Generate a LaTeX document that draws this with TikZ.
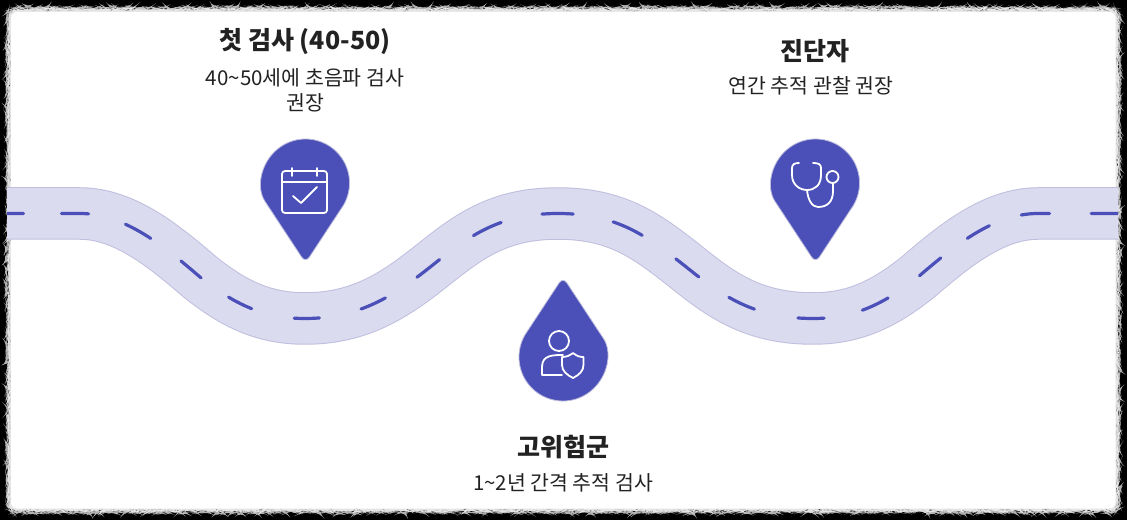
\documentclass[tikz,border=0pt]{standalone}
\usepackage{fontspec}
\setmainfont{Noto Sans CJK KR}
\usetikzlibrary{calc,decorations.pathmorphing,positioning}
\definecolor{road}{RGB}{219,219,240}
\definecolor{roadedge}{RGB}{192,190,222}
\definecolor{pinblue}{RGB}{74,80,184}
\definecolor{inktext}{RGB}{34,34,34}
\tikzset{
  titletext/.style={font=\fontsize{25}{29}\selectfont\bfseries,text=inktext,inner sep=0pt},
  subtext/.style={font=\fontsize{20.5}{25}\selectfont,text=inktext,inner sep=0pt,align=center},
  iconline/.style={draw=white,line width=1.8pt,line cap=round,line join=round},
  roaddash/.style={draw=pinblue,line width=3.2pt,line cap=round,dash pattern=
    on 31.1pt off 37.8pt on 27.2pt off 38.5pt on 29pt off 37.8pt on 26.2pt off 33.6pt
    on 25.8pt off 43.8pt on 25.2pt off 42.8pt on 26.7pt off 37.8pt on 28.6pt off 41.6pt
    on 30.7pt off 41.8pt on 31.2pt off 40.8pt on 32.1pt off 41.1pt on 29.2pt off 36.4pt
    on 28.1pt off 44.6pt on 26.2pt off 39.2pt on 28.5pt off 38.6pt on 27.7pt off 33pt
    on 25.4pt off 33.8pt on 28.2pt off 41.8pt on 40pt off 40pt},
  pin/.pic={
    \fill[pinblue,draw=roadedge,line width=0.8pt,rounded corners=7pt]
      (36.7,-24.2) -- (0,-80) -- (-36.7,-24.2) [sharp corners] arc (213.4:-33.4:44) -- cycle;
  }
}
\begin{document}
\begin{tikzpicture}[x=1pt,y=1pt]
  \useasboundingbox (0,0) rectangle (1127,520);
  \fill[black] (0,0) rectangle (1127,520);
  % card with rough edge
  \fill[gray!60,rounded corners=8pt,decorate,decoration={random steps,segment length=2pt,amplitude=0.9pt}]
    (7.5,8) rectangle (1119,512);
  \fill[gray!20,rounded corners=7pt,decorate,decoration={random steps,segment length=2pt,amplitude=0.7pt}]
    (9,9.5) rectangle (1117.5,510.5);
  \fill[white,rounded corners=6pt] (11,11.5) rectangle (1115.5,508);
  % road
  \begin{scope}
    \clip (7,0) rectangle (1118,520);
    \def\roadpath{(-7.5,306.5) -- (80,306.5) .. controls (125,306.5) and (165,273) .. (200,243)
      .. controls (235,215) and (265,201.5) .. (305,201.5)
      .. controls (360,201.5) and (395,225) .. (431.5,254)
      .. controls (468,283) and (498,306.5) .. (558,306.5)
      .. controls (618,306.5) and (648,283) .. (685,254)
      .. controls (721,225) and (753,201.5) .. (813,201.5)
      .. controls (853,201.5) and (883,215) .. (918,243)
      .. controls (953,273) and (993,306.5) .. (1038,306.5) -- (1137,306.5)}
    \draw[roadedge,line width=52.5pt] \roadpath;
    \draw[road,line width=50.5pt] \roadpath;
    \draw[roaddash] \roadpath;
  \end{scope}
  % pins
  \pic at (305.5,337) {pin};
  \pic at (815.5,337) {pin};
  \pic[rotate=180] at (563,163) {pin};
  % calendar
  \begin{scope}[shift={(305,337)}]
    \draw[iconline,rounded corners=3pt] (-23,12) rectangle (22,-30);
    \draw[iconline] (-23,1) -- (22,1) (-13,15) -- (-13,7) (12,15) -- (12,7);
    \draw[iconline] (-12,-13) -- (-4,-20) -- (12,-4);
  \end{scope}
  % stethoscope
  \begin{scope}[shift={(815,337)}]
    \draw[iconline] (-16,20) .. controls (-20,20) and (-23,19) .. (-23,15)
      -- (-23,8) .. controls (-23,-2) and (-15,-7) .. (-8,-7)
      .. controls (0,-7) and (6,-2) .. (6,8) -- (6,15) .. controls (6,19) and (3,20) .. (-2,20);
    \draw[iconline] (-8,-7) .. controls (-7,-17) and (-3,-24) .. (3,-24)
      .. controls (12,-24) and (18,-19) .. (18,-8) -- (18,0);
    \draw[iconline] (17.5,6) circle (6);
  \end{scope}
  % person with shield
  \begin{scope}[shift={(559,179)}]
    \draw[iconline] (0,0) circle (10);
    \draw[iconline] (4,-14) .. controls (-6,-14) and (-17,-14) .. (-17,-26) -- (-17,-31)
      -- (-17,-34) -- (3,-34);
    \draw[iconline,fill=pinblue] (14,-12) .. controls (10,-15) and (7,-16) .. (3,-16)
      -- (3,-24) .. controls (3,-30) and (8,-34) .. (14,-37)
      .. controls (20,-34) and (24.5,-30) .. (24.5,-24) -- (24.5,-16)
      .. controls (20,-16) and (18,-15) .. (14,-12) -- cycle;
  \end{scope}
  % labels
  \node[titletext] (firsttitle) at (305,479) {첫 검사 (40-50)};
  \node[subtext,below=14.5pt of firsttitle] (firstsub) {40\textasciitilde50세에 초음파 검사\\권장};
  \node[titletext] (diagtitle) at (815,469) {진단자};
  \node[subtext,below=13pt of diagtitle,xshift=-4pt] (diagsub) {연간 추적 관찰 권장};
  \node[titletext] (risktitle) at (563,73) {고위험군};
  \node[subtext,below=14pt of risktitle] (risksub) {1\textasciitilde2년 간격 추적 검사};
\end{tikzpicture}
\end{document}
